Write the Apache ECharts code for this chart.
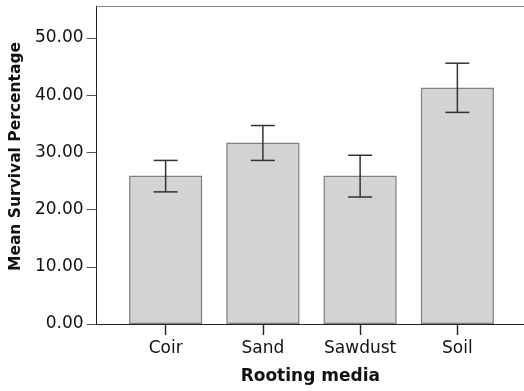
<!DOCTYPE html>
<html>
<head>
<meta charset="utf-8">
<script src="https://cdn.jsdelivr.net/npm/echarts@6/dist/echarts.min.js"></script>
<style>html,body{margin:0;padding:0;background:#fff}#c{width:524px;height:391px}</style>
</head>
<body>
<div id="c"></div>
<script>
const categories = ['Coir', 'Sand', 'Sawdust', 'Soil'];
const means = [25.9, 31.7, 25.9, 41.3];
const lowerCI = [23.1, 28.6, 22.2, 37.0];
const upperCI = [28.6, 34.7, 29.5, 45.6];
const yTicks = [0, 10, 20, 30, 40, 50];

const chart = echarts.init(document.getElementById('c'), null, {renderer: 'canvas'});
const fontFamily = '"DejaVu Sans", sans-serif';
const yMax = 55.6;
chart.setOption({
  animation: false,
  backgroundColor: '#fff',
  grid: [
    {left: 95, right: 0, top: 6, bottom: 67, containLabel: false},
    {left: 117, right: 18, top: 6, bottom: 67, containLabel: false}
  ],
  xAxis: [{
    gridIndex: 0,
    type: 'value',
    min: 0, max: 1,
    name: 'Rooting media',
    nameLocation: 'middle',
    nameGap: 44,
    nameTextStyle: {fontFamily, fontSize: 17, fontWeight: 'bold', color: '#111'},
    axisLine: {onZero: false, lineStyle: {color: '#222', width: 1}},
    axisTick: {show: false},
    axisLabel: {show: false},
    splitLine: {show: false}
  }, {
    gridIndex: 0,
    type: 'value',
    position: 'top',
    min: 0, max: 1,
    axisLine: {show: true, onZero: false, lineStyle: {color: '#888', width: 1}},
    axisTick: {show: false},
    axisLabel: {show: false},
    splitLine: {show: false}
  }, {
    gridIndex: 1,
    type: 'category',
    data: categories,
    boundaryGap: true,
    axisLine: {show: true, onZero: false, lineStyle: {color: '#222', width: 1}},
    axisTick: {show: true, inside: false, alignWithLabel: true, interval: 0, length: 11, lineStyle: {color: '#222222', width: 1.4}},
    axisLabel: {margin: 16, fontFamily, fontSize: 17, color: '#111'},
    splitLine: {show: false}
  }],
  yAxis: [{
    gridIndex: 0,
    type: 'value',
    min: 0,
    max: yMax,
    interval: 10,
    name: 'Mean Survival Percentage',
    nameLocation: 'middle',
    nameGap: 61,
    nameTextStyle: {fontFamily, fontSize: 15.5, fontWeight: 'bold', color: '#111', padding: [0, 0, 0, 17]},
    axisLine: {show: true, onZero: false, lineStyle: {color: '#222', width: 1}},
    axisTick: {show: true, length: 10, customValues: yTicks, lineStyle: {color: '#555'}},
    axisLabel: {customValues: yTicks, margin: 13, fontFamily, fontSize: 17, color: '#111',
      formatter: v => v.toFixed(2)},
    splitLine: {show: false}
  }, {
    gridIndex: 1,
    type: 'value',
    min: 0,
    max: yMax,
    axisLine: {show: false},
    axisTick: {show: false},
    axisLabel: {show: false},
    splitLine: {show: false}
  }],
  series: [{
    type: 'bar',
    xAxisIndex: 2,
    yAxisIndex: 1,
    data: means,
    barWidth: 73,
    itemStyle: {color: '#d3d3d3', borderColor: '#808080', borderWidth: 1.2}
  }, {
    type: 'custom',
    xAxisIndex: 2,
    yAxisIndex: 1,
    data: means.map((m, i) => [i, lowerCI[i], upperCI[i]]),
    renderItem: function (params, api) {
      const x = api.value(0);
      const lo = api.coord([x, api.value(1)]);
      const hi = api.coord([x, api.value(2)]);
      const hw = 12;
      const style = {stroke: '#333', lineWidth: 1.5};
      return {
        type: 'group',
        children: [
          {type: 'line', shape: {x1: hi[0], y1: hi[1], x2: lo[0], y2: lo[1]}, style},
          {type: 'line', shape: {x1: hi[0] - hw, y1: hi[1], x2: hi[0] + hw, y2: hi[1]}, style},
          {type: 'line', shape: {x1: lo[0] - hw, y1: lo[1], x2: lo[0] + hw, y2: lo[1]}, style}
        ]
      };
    },
    z: 5
  }]
});
</script>
</body>
</html>
